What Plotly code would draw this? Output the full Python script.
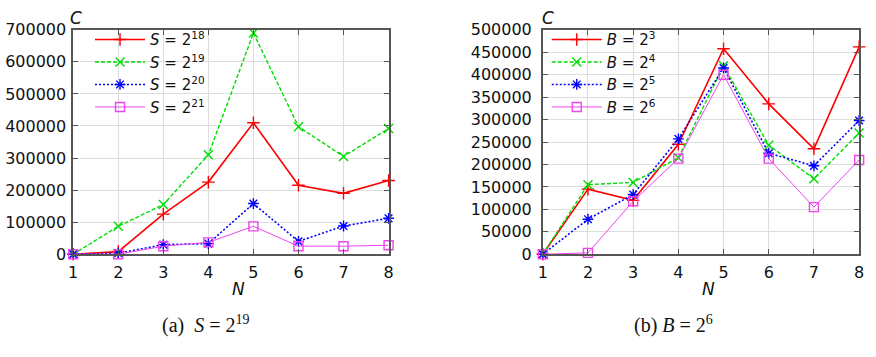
import plotly.graph_objects as go

N = [1, 2, 3, 4, 5, 6, 7, 8]

# Panel (a): S values
s_names = ["<i>S</i> = 2<sup>18</sup>", "<i>S</i> = 2<sup>19</sup>",
           "<i>S</i> = 2<sup>20</sup>", "<i>S</i> = 2<sup>21</sup>"]
s18 = [0, 8000, 125000, 225000, 410000, 215000, 190000, 230000]
s19 = [0, 87000, 155000, 310000, 690000, 398000, 305000, 392000]
s20 = [0, 3000, 30000, 33000, 158000, 40000, 88000, 112000]
s21 = [0, 0, 25000, 37000, 87000, 25000, 25000, 28000]

# Panel (b): B values
b_names = ["<i>B</i> = 2<sup>3</sup>", "<i>B</i> = 2<sup>4</sup>",
           "<i>B</i> = 2<sup>5</sup>", "<i>B</i> = 2<sup>6</sup>"]
b3 = [0, 145000, 120000, 245000, 458000, 335000, 235000, 462000]
b4 = [0, 155000, 160000, 215000, 420000, 243000, 168000, 270000]
b5 = [0, 78000, 133000, 257000, 415000, 225000, 197000, 298000]
b6 = [0, 3000, 118000, 213000, 400000, 213000, 105000, 210000]

yticks_a = [0, 100000, 200000, 300000, 400000, 500000, 600000, 700000]
yticks_b = [0, 50000, 100000, 150000, 200000, 250000, 300000, 350000, 400000, 450000, 500000]

styles = [
    dict(color="#ff0000", dash="solid", symbol="cross-thin-open", lw=1.6, ms=9),
    dict(color="#00dd00", dash="4px,2px", symbol="x-thin-open", lw=1.4, ms=9),
    dict(color="#0000ff", dash="2px,2px", symbol="asterisk-open", lw=1.6, ms=9),
    dict(color="#ee44ee", dash="solid", symbol="square-open", lw=1.0, ms=9),
]

W, H = 876, 357
fig = go.Figure()

def add_series(names, series, xa, ya, legend):
    for name, ys, st in zip(names, series, styles):
        fig.add_trace(go.Scatter(
            x=N, y=ys, name=name, mode="lines+markers",
            line=dict(color=st["color"], dash=st["dash"], width=st["lw"]),
            marker=dict(symbol=st["symbol"], size=st["ms"], color=st["color"],
                        line=dict(color=st["color"], width=1.4)),
            xaxis=xa, yaxis=ya, legend=legend, cliponaxis=False,
        ))

add_series(s_names, [s18, s19, s20, s21], "x", "y", "legend")
add_series(b_names, [b3, b4, b5, b6], "x2", "y2", "legend2")

def px_x(p):
    return p / W

def px_y(p):
    return 1 - p / H

tickfont = dict(family="DejaVu Sans", size=16, color="#111111")
common_x = dict(range=[1, 8], tickvals=N, showgrid=True, gridcolor="#dddddd",
                gridwidth=1, showline=True, linecolor="#555555", linewidth=1.6,
                mirror="ticks", ticks="inside", ticklen=5, tickcolor="#555555",
                tickfont=tickfont, zeroline=False, ticklabelstandoff=3)
common_y = dict(showgrid=True, gridcolor="#dddddd", gridwidth=1,
                showline=True, linecolor="#555555", linewidth=1.6,
                mirror="ticks", ticks="inside", ticklen=5, tickcolor="#555555",
                tickfont=tickfont, zeroline=False)

ydom = [px_y(259), px_y(22)]
legend_common = dict(font=dict(family="DejaVu Sans", size=15, color="#111111"),
                     bgcolor="rgba(0,0,0,0)", itemwidth=50, tracegroupgap=0,
                     xanchor="left", yanchor="top", yref="paper", xref="paper")

fig.update_layout(
    width=W, height=H, margin=dict(l=0, r=0, t=0, b=0),
    plot_bgcolor="white", paper_bgcolor="white", showlegend=True,
    xaxis=dict(domain=[px_x(69), px_x(388)], anchor="y", **common_x),
    yaxis=dict(domain=ydom, anchor="x", range=[0, 700000], tickvals=yticks_a,
               ticktext=[str(v) for v in yticks_a], ticklabelstandoff=2, **common_y),
    xaxis2=dict(domain=[px_x(544), px_x(864)], anchor="y2", **common_x),
    yaxis2=dict(domain=ydom, anchor="x2", range=[0, 500000], tickvals=yticks_b,
                ticktext=[str(v) for v in yticks_b], ticklabelstandoff=6, **common_y),
    legend=dict(x=px_x(86), y=px_y(15), **legend_common),
    legend2=dict(x=px_x(548), y=px_y(15), **legend_common),
)

ann_font = dict(family="DejaVu Sans", size=17, color="#111111")
cap_font = dict(family="Liberation Serif", size=20, color="#111111")
annotations = [
    dict(text="<i>C</i>", x=px_x(72), y=px_y(9), font=ann_font),
    dict(text="<i>C</i>", x=px_x(549), y=px_y(9), font=ann_font),
    dict(text="<i>N</i>", x=px_x(236), y=px_y(296), font=ann_font),
    dict(text="<i>N</i>", x=px_x(712), y=px_y(296), font=ann_font),
    dict(text="(a)  <i>S</i> = 2<sup>19</sup>", x=px_x(203), y=px_y(333), font=cap_font),
    dict(text="(b) <i>B</i> = 2<sup>6</sup>", x=px_x(676), y=px_y(333), font=cap_font),
]
for a in annotations:
    fig.add_annotation(xref="paper", yref="paper", showarrow=False,
                       xanchor="center", yanchor="middle", **a)

fig.write_html("out.html", config={"displayModeBar": False},
               post_script="document.body.style.margin='0';document.body.style.overflow='hidden';")
